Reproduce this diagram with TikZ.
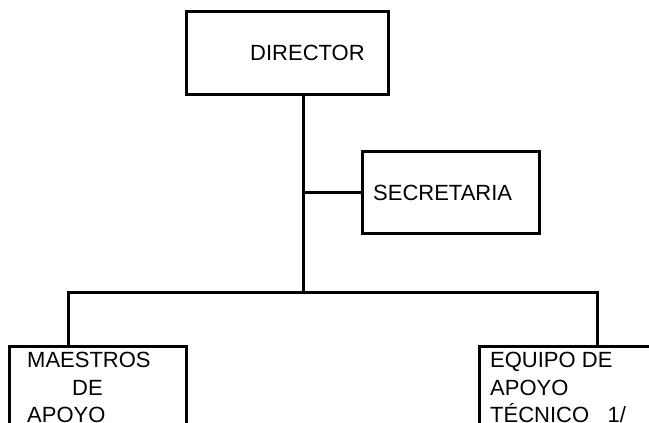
\documentclass[tikz,border=0pt]{standalone}
\usepackage{fontspec}
\setmainfont{Liberation Sans}
\begin{document}
\begin{tikzpicture}[x=1pt,y=-1pt,
  box/.style={draw,line width=3pt,minimum width=#1,inner sep=0pt,anchor=north west},
  lbl/.style={font=\fontsize{22}{27.5}\selectfont,inner sep=0pt,anchor=base west},
  wire/.style={line width=3pt}]
\useasboundingbox (0,0) rectangle (649,423);
\clip (0,0) rectangle (649,423);
\node[box=202pt,minimum height=83pt] (dir) at (185,10) {};
\node[box=177pt,minimum height=82pt] (sec) at (361,150) {};
\node[box=177pt,minimum height=140pt] (mae) at (8,345) {};
\node[box=220pt,minimum height=140pt] (equ) at (478,345) {};
\node[lbl] (tdir) at (250,60) {DIRECTOR};
\node[lbl] (tsec) at (373,200) {SECRETARIA};
\node[lbl] (tm1) at (27,367) {MAESTROS};
\node[lbl] (tm2) at (72,395) {DE};
\node[lbl] (tm3) at (27,422) {APOYO};
\node[lbl] (te1) at (490,367) {EQUIPO DE};
\node[lbl] (te2) at (490,395) {APOYO};
\node[lbl] (te3) at (490,422) {TÉCNICO\ \ \ 1/};
\coordinate (j) at (303,292);
\coordinate (jl) at (68,292);
\coordinate (jr) at (597,292);
\draw[wire] (dir.south -| j) -- (j);
\draw[wire] (sec.west -| j) -- (sec.west);
\draw[wire] (mae.north -| jl) -- (jl) -- (jr) -- (equ.north -| jr);
\end{tikzpicture}
\end{document}
